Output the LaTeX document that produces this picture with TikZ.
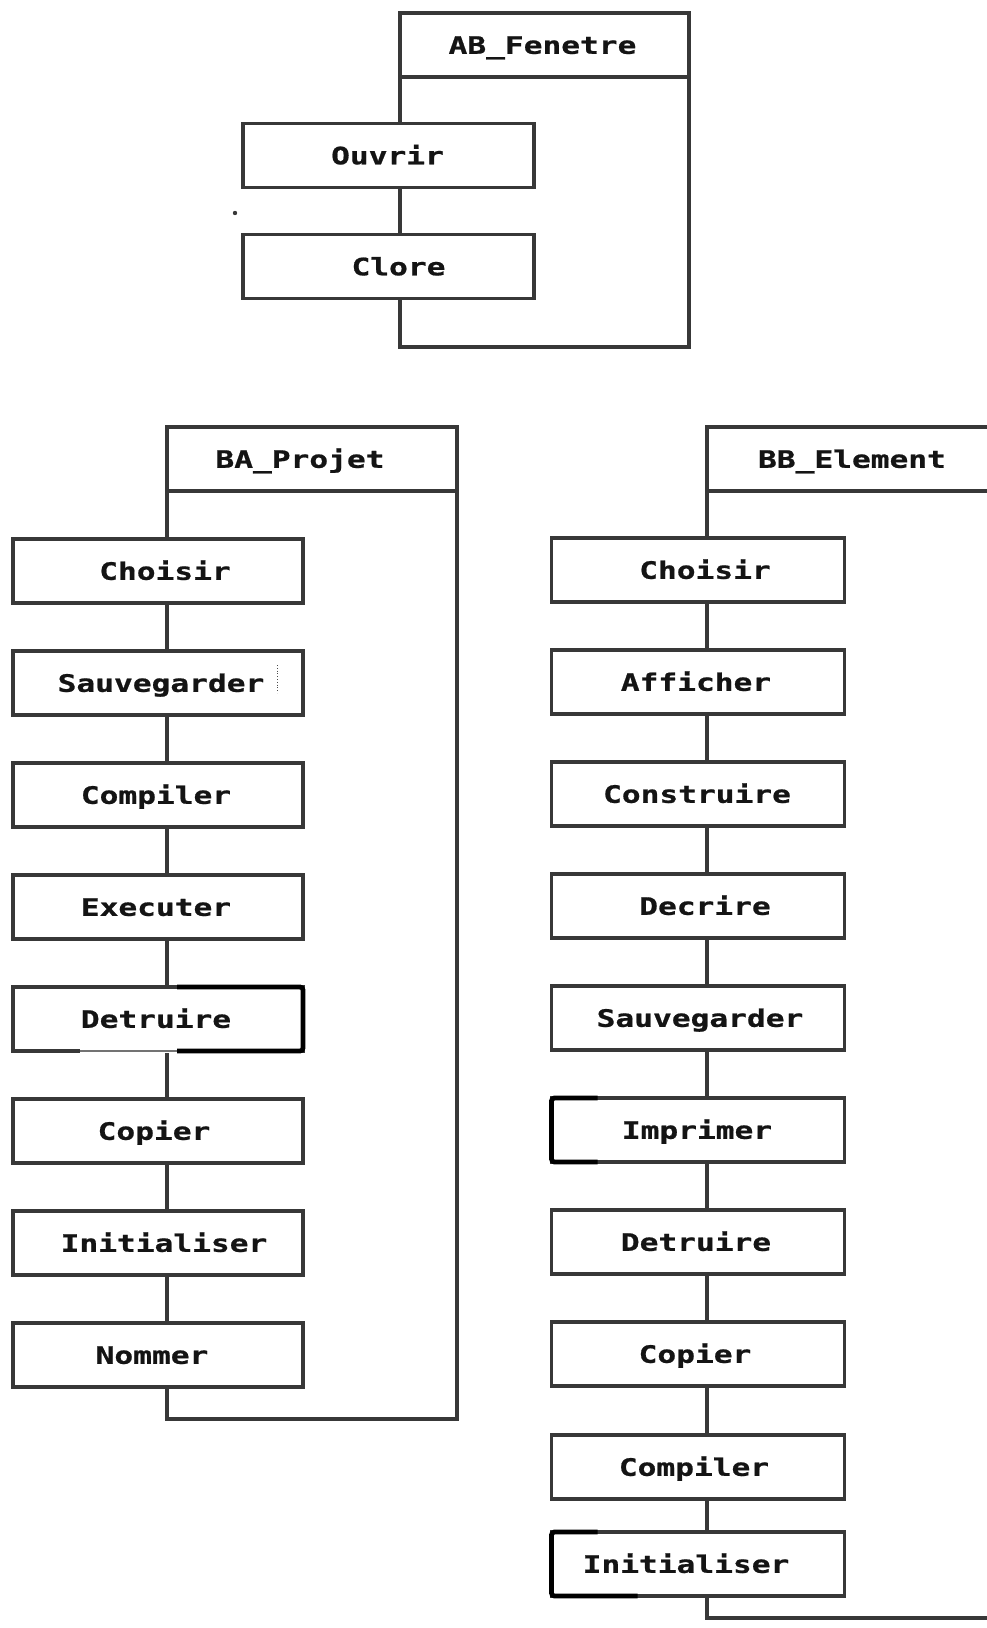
\documentclass[tikz,border=0pt]{standalone}
\usepackage{fontspec}
\newfontfamily\pixfont[FakeStretch=1.3, BoldFeatures={FakeBold=0.8}]{DejaVu Sans Mono}
\definecolor{ink}{HTML}{383838}
\definecolor{txt}{HTML}{141414}
\begin{document}
\begin{tikzpicture}[x=0.5pt,y=-0.5pt,
  line join=miter,
  frame/.style={draw=ink, line width=1.9pt},
  classhead/.style={frame, fill=white, minimum width=145pt, minimum height=32pt,
    inner sep=0pt, outer sep=0pt, text=txt,
    font=\pixfont\bfseries\fontsize{12}{12}\selectfont,
    text height=8.8pt, text depth=0pt},
  method/.style={classhead, minimum width=145.5pt},
  heavy/.style={draw=black, line width=2.4pt, rounded corners=1.5pt},
]
\useasboundingbox (0,0) rectangle (986,1628);
\fill[white] (0,0) rectangle (986,1628);

% ---------- AB_Fenetre ----------
\node[classhead, minimum width=144.5pt] (abH) at (544.5,45) {\hspace*{-2pt}AB\_Fenetre};
\node[method] (ab1) at (388.5,155.5) {\hspace*{-1pt}Ouvrir};
\node[method] (ab2) at (388.5,266.5) {\hspace*{10pt}Clore};
\coordinate (abEnd) at (689,347);
\foreach \a/\b in {H/1,1/2}
  \draw[frame] (ab\a.south -| abH.south west) -- (ab\b.north -| abH.south west);
\draw[frame] (abH.south east) -- (abEnd) -- (abEnd -| abH.south west)
  -- (ab2.south -| abH.south west);
\fill[ink] (235,213) circle (2.2);

% ---------- BA_Projet ----------
\node[classhead] (baH) at (312,459) {\hspace*{-12pt}BA\_Projet};
\foreach \t/\s [count=\i] in {Choisir/7,Sauvegarder/3,Compiler/-2,Executer/-2,
    Detruire/-2,Copier/-4,Initialiser/6,Nommer/-6}
  \node[method, minimum width=145pt] (ba\i) at (158,459+112*\i) {\hspace*{\s pt}\t};
\coordinate (baEnd) at (457,1419);
\foreach \a/\b in {H/1,1/2,2/3,3/4,4/5,5/6,6/7,7/8}
  \draw[frame] (ba\a.south -| baH.south west) -- (ba\b.north -| baH.south west);
\draw[frame] (baH.south east) -- (baEnd) -- (baEnd -| baH.south west)
  -- (ba8.south -| baH.south west);
% pen marks on the boxes
\draw[draw=black!70, line width=0.4pt, densely dotted] (277,665) -- (277,693);
\draw[heavy] ([xshift=-63pt]ba5.north east) -- (ba5.north east)
  -- (ba5.south east) -- ([xshift=-63pt]ba5.south east);
\draw[white, line width=2.4pt] ([xshift=33.5pt]ba5.south west) -- ([xshift=82pt]ba5.south west);
\draw[black!55, line width=0.6pt] ([xshift=33.5pt]ba5.south west) -- ([xshift=82pt]ba5.south west);

% ---------- BB_Element ----------
\node[classhead] (bbH) at (852,459) {BB\_Element};
\foreach \t/\y/\s [count=\i] in {Choisir/570/7,Afficher/682/-2,Construire/794/-1,
    Decrire/906/7,Sauvegarder/1018/2,Imprimer/1130/-1,Detruire/1242/-2,
    Copier/1354/-3,Compiler/1467/-4,Initialiser/1564/-12}
  \node[method, minimum width=146.5pt] (bb\i) at (698,\y) {\hspace*{\s pt}\t};
\coordinate (bbEnd) at (997,1618);
\foreach \a/\b in {H/1,1/2,2/3,3/4,4/5,5/6,6/7,7/8,8/9,9/10}
  \draw[frame] (bb\a.south -| bbH.south west) -- (bb\b.north -| bbH.south west);
\draw[frame] (bbH.south east) -- (bbEnd) -- (bbEnd -| bbH.south west)
  -- (bb10.south -| bbH.south west);
\draw[heavy] ([xshift=23pt]bb6.north west) -- (bb6.north west)
  -- (bb6.south west) -- ([xshift=23pt]bb6.south west);
\draw[heavy] ([xshift=23pt]bb10.north west) -- (bb10.north west)
  -- (bb10.south west) -- ([xshift=43pt]bb10.south west);
\end{tikzpicture}
\end{document}
